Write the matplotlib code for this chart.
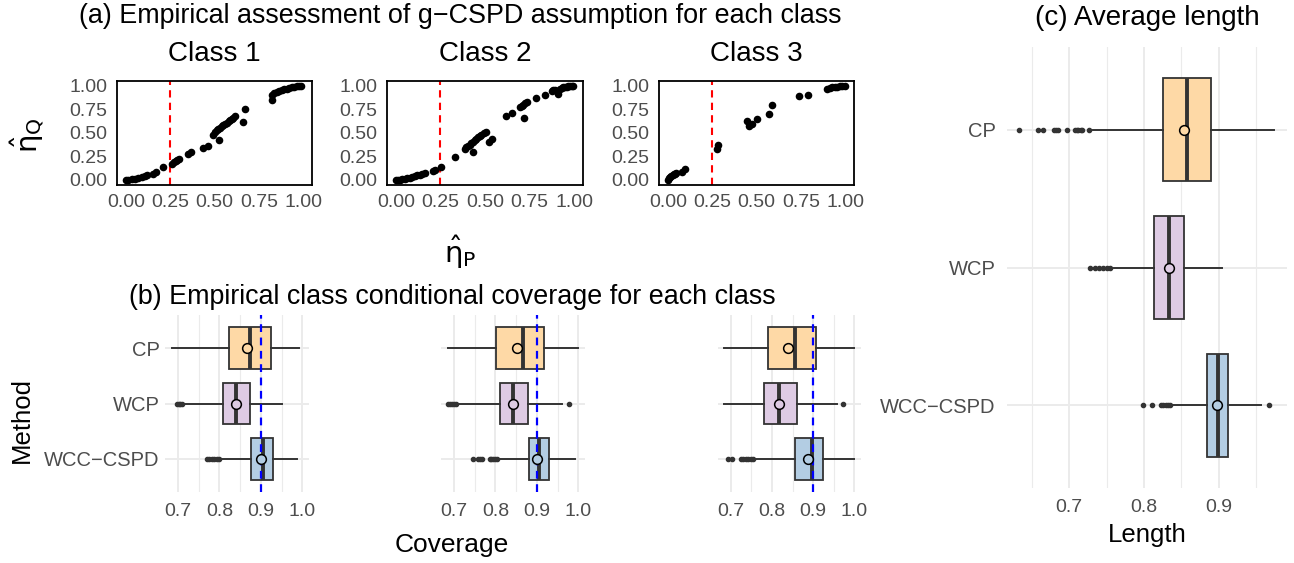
import matplotlib.pyplot as plt

plt.rcParams['font.family'] = ['Liberation Sans', 'DejaVu Sans']

W, H = 1294, 563

classes = ['Class 1', 'Class 2', 'Class 3']
methods = ['CP', 'WCP', 'WCC\u2212CSPD']
box_colors = ['#FED9A6', '#DECBE4', '#B3CDE3']

# (a) eta_P vs eta_Q
c1_x = [0.0, 0.014, 0.033, 0.051, 0.07, 0.089, 0.108, 0.121, 0.155, 0.17, 0.208,
        0.262, 0.272, 0.281, 0.29, 0.30, 0.353, 0.368, 0.437, 0.462, 0.528,
        0.494, 0.503, 0.512, 0.522, 0.531, 0.541, 0.55, 0.56, 0.569, 0.579, 0.588, 0.598, 0.607, 0.616,
        0.673, 0.663, 0.824, 0.824, 0.838, 0.852, 0.866, 0.88, 0.894, 0.908, 0.922,
        0.937, 0.951, 0.965, 0.978, 0.99]
c1_y = [0.0, 0.0, 0.005, 0.012, 0.022, 0.033, 0.044, 0.055, 0.065, 0.08, 0.134,
        0.172, 0.185, 0.198, 0.208, 0.219, 0.276, 0.294, 0.336, 0.354, 0.418,
        0.471, 0.507, 0.524, 0.54, 0.553, 0.567, 0.58, 0.593, 0.607, 0.621, 0.636, 0.65, 0.662, 0.674,
        0.753, 0.61, 0.845, 0.898, 0.918, 0.935, 0.944, 0.952, 0.962, 0.97, 0.976,
        0.984, 0.99, 0.995, 0.998, 1.0]

c2_x = [0.0, 0.01, 0.021, 0.035, 0.05, 0.064, 0.078, 0.092, 0.106, 0.12, 0.134, 0.148,
        0.162, 0.208, 0.22, 0.252, 0.33, 0.387, 0.396, 0.405, 0.414, 0.424, 0.433,
        0.443, 0.452, 0.462, 0.471, 0.48, 0.492, 0.505, 0.43, 0.523, 0.542,
        0.62, 0.649, 0.718, 0.696, 0.705, 0.715, 0.725, 0.734, 0.786, 0.836,
        0.874, 0.883, 0.892, 0.911, 0.92, 0.93, 0.94, 0.949, 0.958, 0.967, 0.976, 0.986, 0.995]
c2_y = [0.0, 0.0, 0.0, 0.005, 0.01, 0.016, 0.022, 0.03, 0.037, 0.046, 0.055, 0.065,
        0.076, 0.097, 0.1, 0.134, 0.247, 0.329, 0.345, 0.361, 0.375, 0.39, 0.404,
        0.418, 0.434, 0.45, 0.464, 0.479, 0.493, 0.507, 0.294, 0.40, 0.436,
        0.674, 0.71, 0.657, 0.775, 0.788, 0.80, 0.812, 0.824, 0.871, 0.898,
        0.941, 0.95, 0.959, 0.913, 0.97, 0.977, 0.984, 0.987, 0.99, 0.995, 1.0, 1.0, 1.0]

c3_x = [0.0, 0.005, 0.012, 0.02, 0.027, 0.033, 0.04, 0.046, 0.08, 0.095, 0.277, 0.283,
        0.447, 0.456, 0.475, 0.5, 0.573, 0.588, 0.739, 0.79,
        0.899, 0.913, 0.927, 0.941, 0.955, 0.969, 0.984, 1.0]
c3_y = [0.0, 0.016, 0.028, 0.04, 0.05, 0.058, 0.064, 0.07, 0.087, 0.115, 0.329, 0.372,
        0.621, 0.567, 0.593, 0.65, 0.70, 0.792, 0.895, 0.898,
        0.97, 0.977, 0.984, 0.987, 0.99, 0.995, 0.999, 1.0]

scatter_x = [c1_x, c2_x, c3_x]
scatter_y = [c1_y, c2_y, c3_y]
cut_off = 0.25

# (b) coverage: whislo, q1, med, q3, whishi, mean  (rows: CP, WCP, WCC-CSPD)
cov_c1 = [[0.685, 0.823, 0.874, 0.925, 0.993, 0.867],
          [0.712, 0.809, 0.840, 0.874, 0.951, 0.840],
          [0.802, 0.876, 0.904, 0.929, 0.986, 0.901]]
cov_c1_out = [[], [0.698, 0.702, 0.706, 0.709],
              [0.770, 0.776, 0.782, 0.788, 0.794, 0.799]]
cov_c2 = [[0.685, 0.802, 0.867, 0.918, 1.000, 0.853],
          [0.710, 0.810, 0.843, 0.879, 0.961, 0.842],
          [0.807, 0.881, 0.904, 0.930, 0.993, 0.901]]
cov_c2_out = [[], [0.686, 0.690, 0.695, 0.700, 0.705, 0.978],
              [0.747, 0.759, 0.763, 0.768, 0.786, 0.790, 0.795, 0.800, 0.804]]
cov_c3 = [[0.683, 0.790, 0.857, 0.908, 0.998, 0.839],
          [0.683, 0.781, 0.817, 0.860, 0.958, 0.816],
          [0.758, 0.857, 0.896, 0.925, 0.998, 0.887]]
cov_c3_out = [[], [0.972],
              [0.694, 0.704, 0.724, 0.730, 0.736, 0.742, 0.748, 0.754]]
cov_stats = [cov_c1, cov_c2, cov_c3]
cov_out = [cov_c1_out, cov_c2_out, cov_c3_out]
target = 0.9

# (c) average length
len_stats = [[0.732, 0.825, 0.857, 0.889, 0.974, 0.854],
             [0.760, 0.814, 0.834, 0.853, 0.905, 0.833],
             [0.838, 0.884, 0.899, 0.913, 0.957, 0.898]]
len_out = [[0.633, 0.658, 0.665, 0.679, 0.682, 0.685, 0.697, 0.707, 0.710, 0.712, 0.715, 0.717, 0.727],
           [0.728, 0.734, 0.740, 0.745, 0.750, 0.755],
           [0.798, 0.811, 0.823, 0.826, 0.829, 0.832, 0.835, 0.967]]

grey_txt = '#4D4D4D'
dark = '#333333'

fig = plt.figure(figsize=(W / 100, H / 100), dpi=100)


def rect(x0, y0, x1, y1):
    return [x0 / W, 1 - y1 / H, (x1 - x0) / W, (y1 - y0) / H]


def ftext(x, y, s, **kw):
    fig.text(x / W, 1 - y / H, s, ha='center', va='center', **kw)


def draw_boxes(ax, stats, outs):
    bx = []
    for s, o, lab in zip(stats, outs, methods):
        bx.append(dict(whislo=s[0], q1=s[1], med=s[2], q3=s[3], whishi=s[4],
                       mean=s[5], fliers=o, label=lab))
    art = ax.bxp(bx, positions=[3, 2, 1], widths=0.75, orientation='horizontal',
                 patch_artist=True, showmeans=True, showcaps=False,
                 boxprops=dict(edgecolor=dark, linewidth=1.3),
                 medianprops=dict(color=dark, linewidth=2.8),
                 whiskerprops=dict(color=dark, linewidth=1.4),
                 flierprops=dict(marker='o', markersize=3, markerfacecolor=dark,
                                 markeredgecolor=dark, linestyle='none'),
                 meanprops=dict(marker='o', markersize=7, markeredgecolor='black',
                                markeredgewidth=1.1))
    for p, c in zip(art['boxes'], box_colors):
        p.set_facecolor(c)
    for m, c in zip(art['means'], box_colors):
        m.set_markerfacecolor(c)
        m.set_zorder(4)


def minimal(ax, xlim, major, minor, labels):
    ax.set_xlim(*xlim)
    ax.set_ylim(0.4, 3.6)
    ax.set_xticks(major)
    ax.set_xticklabels(labels)
    ax.set_xticks(minor, minor=True)
    ax.set_yticks([3, 2, 1])
    ax.grid(which='major', color='#EBEBEB', linewidth=1.4)
    ax.grid(which='minor', axis='x', color='#EBEBEB', linewidth=0.8)
    ax.set_axisbelow(True)
    for sp in ax.spines.values():
        sp.set_visible(False)
    ax.tick_params(which='both', length=0, labelcolor=grey_txt)
    ax.tick_params(axis='x', labelsize=14, pad=8)
    ax.tick_params(axis='y', labelsize=14.5, pad=4)


# (a) scatter panels
a_x = [(117, 312), (387, 583), (659, 854)]
ticks_a = [0, 0.25, 0.5, 0.75, 1.0]
for i in range(3):
    ax = fig.add_axes(rect(a_x[i][0], 81, a_x[i][1], 184.5))
    ax.scatter(scatter_x[i], scatter_y[i], s=30, color='black', linewidths=0, zorder=3)
    ax.axvline(cut_off, color='red', linestyle=(0, (3.5, 2.5)), linewidth=1.5, zorder=2)
    ax.set_xlim(-0.05, 1.05)
    ax.set_ylim(-0.05, 1.05)
    ax.set_xticks(ticks_a)
    ax.set_yticks(ticks_a)
    ax.set_xticklabels(['0.00', '0.25', '0.50', '0.75', '1.00'])
    ax.set_yticklabels(['0.00', '0.25', '0.50', '0.75', '1.00'])
    ax.tick_params(length=0, labelsize=14, labelcolor=grey_txt, pad=7)
    for sp in ax.spines.values():
        sp.set_linewidth(1.3)
    ftext((a_x[i][0] + a_x[i][1]) / 2, 54, classes[i], fontsize=20)

# (b) coverage panels
b_x = [(165, 309), (441, 585), (718, 861)]
for i in range(3):
    ax = fig.add_axes(rect(b_x[i][0], 315, b_x[i][1], 492))
    draw_boxes(ax, cov_stats[i], cov_out[i])
    ax.axvline(target, color='blue', linestyle=(0, (3.5, 2.5)), linewidth=1.6, zorder=3)
    minimal(ax, (0.669, 1.016), [0.7, 0.8, 0.9, 1.0], [0.75, 0.85, 0.95],
            ['0.7', '0.8', '0.9', '1.0'])
    if i == 0:
        ax.set_yticklabels(methods)
    else:
        ax.set_yticklabels([])

# (c) length panel
ax = fig.add_axes(rect(1007, 47, 1287, 488))
draw_boxes(ax, len_stats, len_out)
minimal(ax, (0.6166, 0.9914), [0.7, 0.8, 0.9], [0.65, 0.75, 0.85, 0.95],
        ['0.7', '0.8', '0.9'])
ax.set_yticklabels(methods)
ax.tick_params(axis='y', pad=8)

# titles and axis titles
ftext(460, 16, '(a) Empirical assessment of g\u2212CSPD assumption for each class', fontsize=19.4)
ftext(28, 135, r'$\hat{\mathrm{\eta}}_\mathrm{Q}$', fontsize=21, rotation=90)
ftext(460, 252, r'$\hat{\mathrm{\eta}}_\mathrm{P}$', fontsize=21)
ftext(452, 297, '(b) Empirical class conditional coverage for each class', fontsize=19.4)
ftext(22, 420, 'Method', fontsize=18.5, rotation=90)
ftext(452, 545, 'Coverage', fontsize=19)
ftext(1147, 18, '(c) Average length', fontsize=20)
ftext(1147, 535, 'Length', fontsize=18.5)

fig.savefig('out.png', dpi=100)
